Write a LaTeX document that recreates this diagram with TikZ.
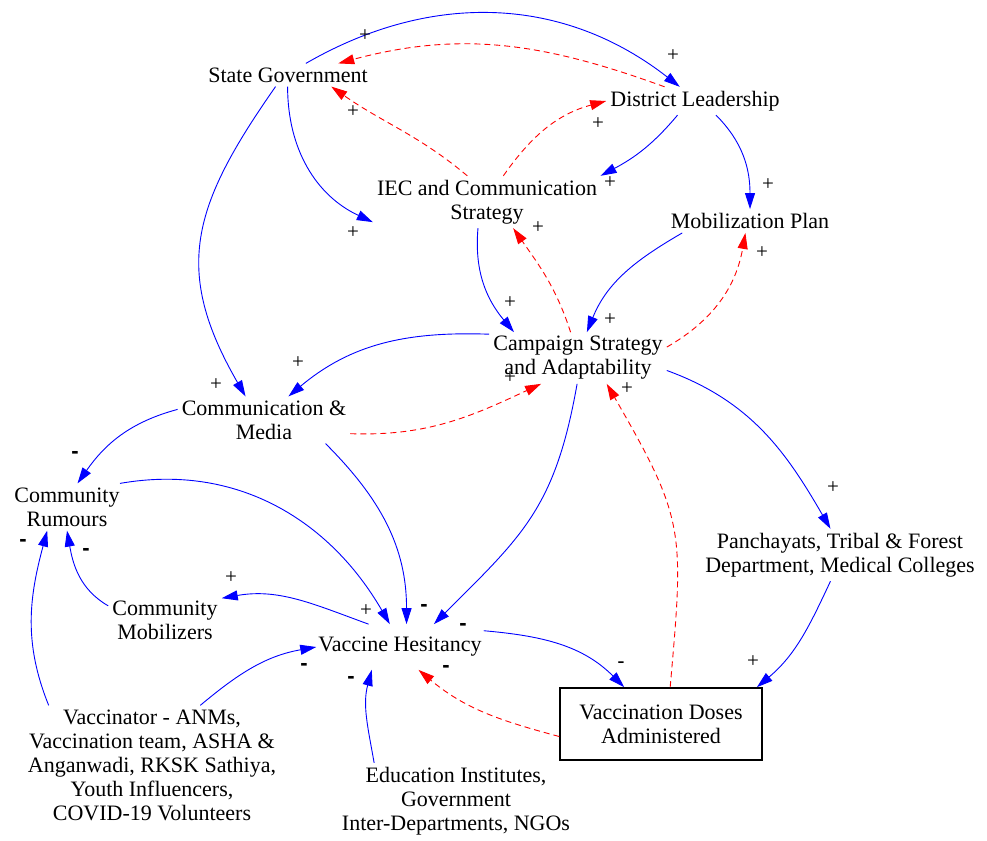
\documentclass[tikz,border=0pt]{standalone}
\usepackage{fontspec}
\setmainfont{Liberation Serif}
\setsansfont{Liberation Sans}
\usepackage{tikz}
\usetikzlibrary{positioning,arrows.meta}
\definecolor{linkblue}{HTML}{0000FF}
\definecolor{cuered}{HTML}{FF0000}
\tikzset{
  var/.style={font=\fontsize{22}{24}\selectfont, align=center, inner sep=4pt},
  stock/.style={var, draw=black, line width=1.6pt, minimum width=202pt,
                minimum height=72pt, inner sep=0pt},
  lnk/.style={draw=linkblue, line width=0.9pt, -{Triangle[length=16pt,width=10pt]}},
  cue/.style={draw=cuered, line width=0.9pt, dash pattern=on 6pt off 4pt,
              -{Triangle[length=16pt,width=10pt]}},
  sgn/.style={font=\fontsize{21}{21}\selectfont, inner sep=0pt},
  neg/.style={sgn, font=\sffamily\bfseries\fontsize{22}{22}\selectfont},
  negthin/.style={sgn, font=\sffamily\fontsize{22}{22}\selectfont},
}

\begin{document}
\begin{tikzpicture}[x=1pt, y=-1pt, on grid]
\useasboundingbox (0,0) rectangle (987,840);

% --- top: government, leadership, plans ---
\node[var] (sg) at (288,75) {State Government};
\node[var] (dl)  [below right=26pt and 407pt of sg]  {District Leadership};
\node[var] (iec) [below right=127pt and 199pt of sg] {IEC and Communication\\Strategy};
\node[var] (mp)  [below right=120pt and 55pt of dl]  {Mobilization Plan};
\node[var] (csa) [below right=156pt and 91pt of iec] {Campaign Strategy\\and Adaptability};

% --- middle: media, rumours, field partners ---
\node[var] (cm)   [below left=62pt and 314pt of csa]   {Communication \&\\Media};
\node[var] (cr)   [below left=87pt and 197pt of cm]    {Community\\Rumours};
\node[var] (pan)  [below right=197pt and 262pt of csa] {Panchayats, Tribal \& Forest\\Department, Medical Colleges};
\node[var] (cmob) [below right=113pt and 98pt of cr]   {Community\\Mobilizers};

% --- bottom: hesitancy and doses ---
\node[var, inner xsep=2pt, inner ysep=13pt] (vh) [below right=227pt and 136pt of cm] {Vaccine Hesitancy};
\node[stock] (vda) [below right=77pt and 261pt of vh] {Vaccination Doses\\Administered};
\node[var] (vac) [below left=118pt and 248pt of vh]
  {Vaccinator - ANMs,\\Vaccination team, ASHA \&\\Anganwadi, RKSK Sathiya,\\Youth Influencers,\\COVID-19 Volunteers};
\node[var] (edu) [below right=154pt and 56pt of vh]
  {Education Institutes,\\Government\\Inter-Departments, NGOs};

% --- links ---
\draw[lnk] (sg.33) to[out=30,in=142] (dl.137);
\draw[cue] (dl.155) to[out=160,in=15] (sg.13);
\draw[cue] (iec.127) to[out=140,in=-35] (sg.-15);
\draw[cue] (iec.58) to[out=55,in=195] (dl.180);
\draw[lnk] (sg.-92) to[out=-90,in=155] (iec.190);
\draw[lnk] (dl.219) to[out=230,in=28] (iec.13);
\draw[lnk] (dl.-34) to[out=-45,in=90] (mp.90);
\draw[lnk] (sg.223) to[out=235,in=120,looseness=1.2] (cm.128);
\draw[lnk] (iec.251) to[out=265,in=130] (csa.158);
\draw[lnk] (mp.190) to[out=210,in=68] (csa.71);
\draw[cue] (csa.7) to[out=30,in=-100] (mp.249);
\draw[cue] (csa.106) to[out=108,in=-55] (iec.-45);
\draw[lnk] (csa.165) to[out=178,in=40] (cm.44);
\draw[cue] (cm.-9) to[out=-2,in=205] (csa.215);
\draw[lnk] (csa.-8) to[out=-20,in=120] (pan.110);
\draw[lnk] (csa.268) to[out=260,in=45,looseness=1.15] (vh.34);
\draw[lnk] (cm.-21) to[out=-45,in=90] (vh.74);
\draw[lnk] (cr.24) to[out=10,in=120] (vh.114);
\draw[lnk] (vh.144) to[out=160,in=10] (cmob.21);
\draw[lnk] (cmob.166) to[out=150,in=-80] (cr.270);
\draw[lnk] (cm.173) to[out=195,in=55] (cr.66);
\draw[lnk] (vac.150) to[out=112,in=-105] (cr.230);
\draw[lnk] (vac.51) to[out=40,in=190] (vh.180);
\draw[lnk] (edu.155) to[out=100,in=-105] (vh.219);
\draw[cue] (vda.187) to[out=165,in=-40] (vh.-51);
\draw[cue] (vda.76) to[out=85,in=-60,looseness=1.3] (csa.-42);
\draw[lnk] (vh.11) to[out=-5,in=135] (vda.135);
\draw[lnk] (pan.-110) to[out=-115,in=40] (vda.21.6);

% --- polarity signs ---
\node[sgn] (s-sgdl)    at (673,56)  {+};
\node[sgn] (s-dlsg)    at (365,36)  {+};
\node[sgn] (s-iecsg)   at (353,112) {+};
\node[sgn] (s-iecdl)   at (598,124) {+};
\node[sgn] (s-sgiec)   at (353,233) {+};
\node[sgn] (s-dliec)   at (610,183) {+};
\node[sgn] (s-dlmp)    at (768,185) {+};
\node[sgn] (s-sgcm)    at (216,385) {+};
\node[sgn] (s-ieccsa)  at (510,303) {+};
\node[sgn] (s-mpcsa)   at (610,320) {+};
\node[sgn] (s-csamp)   at (762,253) {+};
\node[sgn] (s-csaiec)  at (538,228) {+};
\node[sgn] (s-csacm)   at (298,363) {+};
\node[sgn] (s-cmcsa)   at (510,378) {+};
\node[sgn] (s-csapan)  at (833,488) {+};
\node[neg] (s-csavh)   at (463,627) {-};
\node[neg] (s-cmvh)    at (424,608) {-};
\node[sgn] (s-crvh)    at (366,611) {+};
\node[sgn] (s-vhcmob)  at (231,578) {+};
\node[neg] (s-cmobcr)  at (86,552)  {-};
\node[neg] (s-cmcr)    at (75,455)  {-};
\node[neg] (s-vaccr)   at (23,543)  {-};
\node[neg] (s-vacvh)   at (304,667) {-};
\node[neg] (s-eduvh)   at (351,680) {-};
\node[neg] (s-vdavh)   at (446,669) {-};
\node[negthin] (s-vhvda) at (621,665) {-};
\node[sgn] (s-panvda)  at (753,662) {+};
\node[sgn] (s-vdacsa)  at (627,389) {+};

\end{tikzpicture}
\end{document}
